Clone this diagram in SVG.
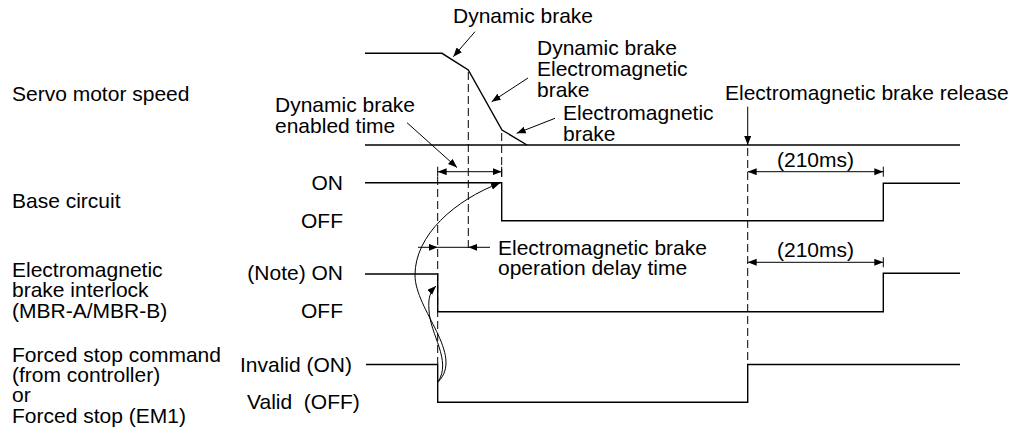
<svg xmlns="http://www.w3.org/2000/svg" width="1028" height="435" viewBox="0 0 1028 435">
<style>
text{font-family:"Liberation Sans",Arial,sans-serif;font-size:21px;fill:#000}
.sig{fill:none;stroke:#000;stroke-width:1.4}
.thin{fill:none;stroke:#000;stroke-width:1}
.dash{fill:none;stroke:#000;stroke-width:1;stroke-dasharray:8 4}
.r{text-anchor:end}
</style>
<defs>
<marker id="ah" markerUnits="userSpaceOnUse" markerWidth="10" markerHeight="8" refX="9" refY="3.5" orient="auto-start-reverse">
<path d="M0,0 L9,3.5 L0,7 z" fill="#000"/>
</marker>
</defs>
<rect width="1028" height="435" fill="#fff"/>

<g id="labels-left">
<text x="12" y="101">Servo motor speed</text>
<text x="12" y="208">Base circuit</text>
<text x="12" y="277">Electromagnetic</text>
<text x="12" y="297">brake interlock</text>
<text x="12" y="318">(MBR-A/MBR-B)</text>
<text x="12" y="362">Forced stop command</text>
<text x="12" y="382">(from controller)</text>
<text x="12" y="402">or</text>
<text x="12" y="423">Forced stop (EM1)</text>
</g>

<g id="levels">
<text class="r" x="343" y="190">ON</text>
<text class="r" x="343" y="228">OFF</text>
<text class="r" x="343" y="280">(Note) ON</text>
<text class="r" x="343" y="318">OFF</text>
<text class="r" x="352" y="372">Invalid (ON)</text>
<text x="247" y="409" xml:space="preserve">Valid  (OFF)</text>
</g>

<g id="speed">
<polyline class="sig" points="365,53.3 442,53.3 468.3,70 502,130 527,145"/>
<line class="sig" x1="365" y1="145" x2="960" y2="145"/>
</g>

<g id="base-circuit">
<polyline class="sig" points="365,182.7 501.7,182.7 501.7,220.7 883.3,220.7 883.3,183.3 960,183.3"/>
</g>

<g id="mbr">
<polyline class="sig" points="365,274 437.7,274 437.7,311.7 883.3,311.7 883.3,273.3 960,273.3"/>
</g>

<g id="forced-stop">
<polyline class="sig" points="366,364.5 437.7,364.5 437.7,402.3 747.7,402.3 747.7,364.5 960,364.5"/>
</g>

<g id="annotations">
<text x="453" y="23">Dynamic brake</text>
<text x="537" y="55">Dynamic brake</text>
<text x="537" y="76">Electromagnetic</text>
<text x="537" y="97">brake</text>
<text x="563" y="120">Electromagnetic</text>
<text x="563" y="141">brake</text>
<text x="275" y="112">Dynamic brake</text>
<text x="275" y="133">enabled time</text>
<text x="725" y="100">Electromagnetic brake release</text>
<text x="498" y="255">Electromagnetic brake</text>
<text x="498" y="275">operation delay time</text>
<text x="777" y="167">(210ms)</text>
<text x="777" y="257">(210ms)</text>
</g>

<g id="connectors">
<line class="dash" x1="468.3" y1="72" x2="468.3" y2="252"/>
<line class="dash" x1="501.7" y1="133" x2="501.7" y2="177"/>
<line class="dash" x1="437.7" y1="177" x2="437.7" y2="364"/>
<line class="dash" x1="747.7" y1="148" x2="747.7" y2="364"/>

<line class="thin" x1="475" y1="31.7" x2="453.3" y2="56.7" marker-end="url(#ah)"/>
<line class="thin" x1="528" y1="78" x2="491.7" y2="101.7" marker-end="url(#ah)"/>
<line class="thin" x1="555" y1="118.3" x2="516.7" y2="133.3" marker-end="url(#ah)"/>
<line class="thin" x1="407" y1="122.7" x2="457" y2="167.5" marker-end="url(#ah)"/>
<line class="thin" x1="747.7" y1="106.7" x2="747.7" y2="145" marker-end="url(#ah)"/>

<line class="thin" x1="437.7" y1="171.7" x2="501.7" y2="171.7" marker-start="url(#ah)" marker-end="url(#ah)"/>
<line class="thin" x1="437.7" y1="166.7" x2="437.7" y2="176.7"/>
<line class="thin" x1="501.7" y1="166.7" x2="501.7" y2="176.7"/>

<line class="thin" x1="418" y1="247.3" x2="437.7" y2="247.3" marker-end="url(#ah)"/>
<line class="thin" x1="437.7" y1="247.3" x2="468.3" y2="247.3"/>
<line class="thin" x1="490" y1="247.3" x2="468.3" y2="247.3" marker-end="url(#ah)"/>

<line class="thin" x1="747.7" y1="171.7" x2="883.3" y2="171.7" marker-start="url(#ah)" marker-end="url(#ah)"/>
<line class="thin" x1="883.3" y1="166.7" x2="883.3" y2="176.7"/>
<line class="thin" x1="747.7" y1="262.3" x2="883.3" y2="262.3" marker-start="url(#ah)" marker-end="url(#ah)"/>
<line class="thin" x1="883.3" y1="257.3" x2="883.3" y2="267.3"/>

<path class="thin" d="M438,382 C465,355 415,310 415,275 C415,235 455,200 500,183" marker-end="url(#ah)"/>
<path class="thin" d="M438,382 C452,360 430,335 429,310 C428,298 430,292 436,286" marker-end="url(#ah)"/>
</g>
</svg>
